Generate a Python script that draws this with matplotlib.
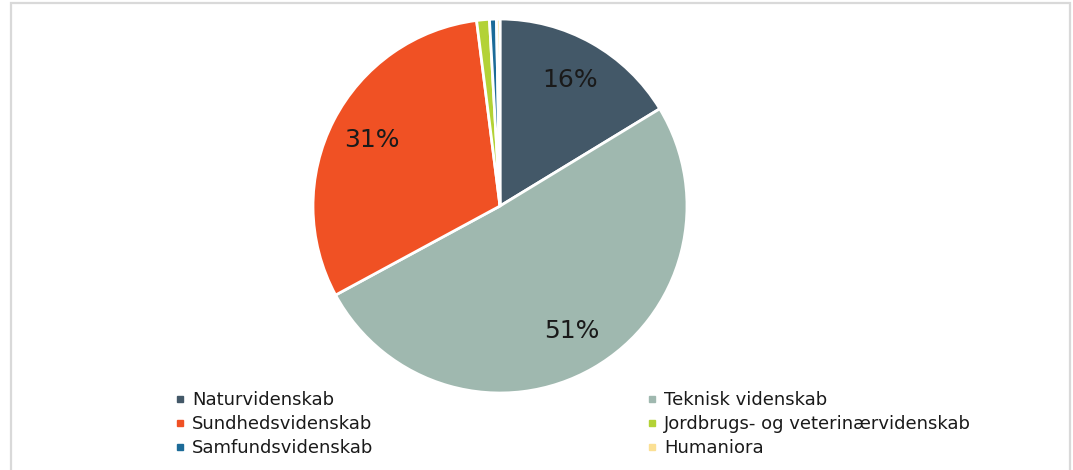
import matplotlib.pyplot as plt
from matplotlib.lines import Line2D
from matplotlib.patches import Rectangle

# fields of science, share of total (%)
categories = [
    "Naturvidenskab",
    "Teknisk videnskab",
    "Sundhedsvidenskab",
    "Jordbrugs- og veterinærvidenskab",
    "Samfundsvidenskab",
    "Humaniora",
]
shares = [16.3, 50.8, 30.9, 1.1, 0.6, 0.3]
colors = ["#435868", "#9fb8af", "#f05124", "#b3d236", "#1c6b98", "#fbe094"]

W, H = 1073, 470
fig = plt.figure(figsize=(W / 100, H / 100), dpi=100)

# light grey frame of the chart area
fig.patches.append(Rectangle((11 / W, -0.02), (1070 - 11) / W, 1 - 3 / H + 0.02,
                             transform=fig.transFigure, fill=False,
                             edgecolor="#d9d9d9", linewidth=1.6))

cx, cy, r = 500, 206, 187
ax = fig.add_axes([(cx - r) / W, (H - cy - r) / H, 2 * r / W, 2 * r / H])


def pct_label(p):
    return f"{p:.0f}%" if p >= 5 else ""


wedges, _, autotexts = ax.pie(
    shares, colors=colors, startangle=90, counterclock=False, radius=1,
    autopct=pct_label, pctdistance=0.77,
    wedgeprops=dict(edgecolor="white", linewidth=2),
    textprops=dict(fontsize=18, color="#1a1a1a"),
)
ax.set_xlim(-1.0, 1.0)
ax.set_ylim(-1.0, 1.0)
ax.set_aspect("equal")
ax.axis("off")


def handle(c):
    return Line2D([], [], marker="s", linestyle="none", markersize=5,
                  markerfacecolor=c, markeredgecolor=c)


legend_kw = dict(frameon=False, fontsize=13, labelspacing=0.33,
                 handlelength=0.6, handletextpad=0.35, borderpad=0,
                 loc="upper left", labelcolor="#1a1a1a")

left_idx = [0, 2, 4]
right_idx = [1, 3, 5]
fig.legend([handle(colors[i]) for i in left_idx], [categories[i] for i in left_idx],
           bbox_to_anchor=(166 / W, 1 - 382 / H), **legend_kw)
fig.legend([handle(colors[i]) for i in right_idx], [categories[i] for i in right_idx],
           bbox_to_anchor=(638 / W, 1 - 382 / H), **legend_kw)

fig.savefig("out.png", dpi=100)
